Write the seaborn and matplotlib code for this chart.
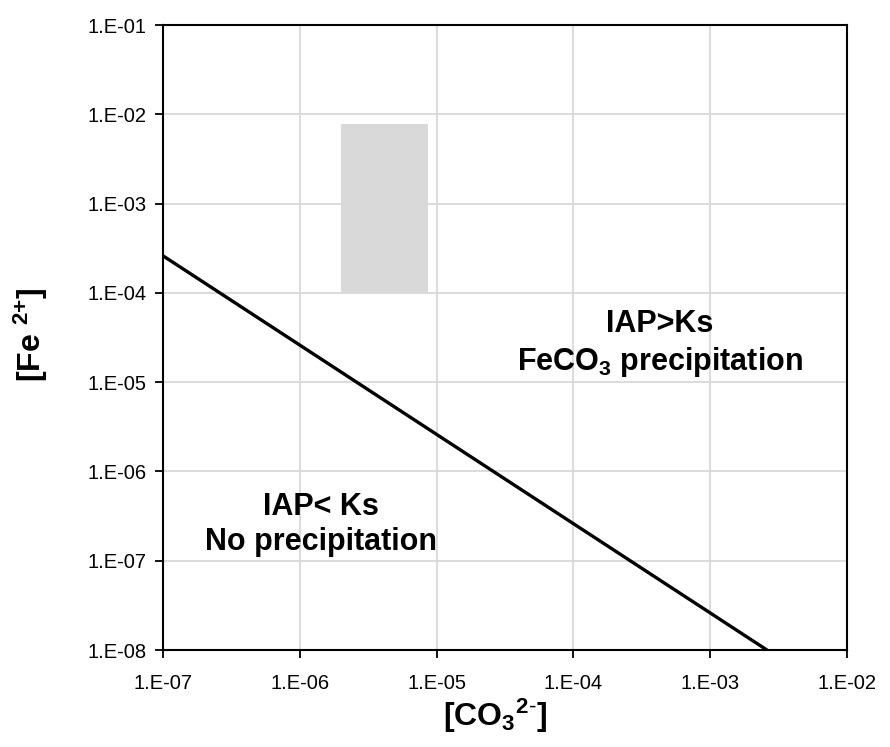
import math
import matplotlib
matplotlib.use("Agg")
import matplotlib.pyplot as plt
import seaborn as sns
import pandas as pd
from matplotlib.ticker import FuncFormatter, NullLocator

# Data
line_x = [1e-7, 2.6e-3]          # [CO3 2-]
line_y = [2.6e-4, 1e-8]          # [Fe 2+] on the solubility line
rect_x = [2.0e-6, 8.6e-6]        # shaded region x range
rect_y = [1.0e-4, 7.8e-3]        # shaded region y range
x_ticks = [1e-7, 1e-6, 1e-5, 1e-4, 1e-3, 1e-2]
y_ticks = [1e-8, 1e-7, 1e-6, 1e-5, 1e-4, 1e-3, 1e-2, 1e-1]

sns.set_theme(style="white")
plt.rcParams['font.family'] = ['Liberation Sans', 'DejaVu Sans']
plt.rcParams['text.color'] = 'black'
plt.rcParams['axes.labelcolor'] = 'black'
plt.rcParams['mathtext.fontset'] = 'custom'
plt.rcParams['mathtext.rm'] = 'Liberation Sans'
plt.rcParams['mathtext.bf'] = 'Liberation Sans:bold'
plt.rcParams['mathtext.it'] = 'Liberation Sans:italic'

fig = plt.figure(figsize=(8.9, 7.47), dpi=100)
ax = fig.add_axes([163/890, 1-650/747, (847-163)/890, (650-25)/747])

ax.set_xscale('log')
ax.set_yscale('log')
ax.set_xlim(x_ticks[0], x_ticks[-1])
ax.set_ylim(y_ticks[0], y_ticks[-1])

ax.fill_between(rect_x, rect_y[0], rect_y[1], color='#d9d9d9', linewidth=0, zorder=1)

df = pd.DataFrame({'x': line_x, 'y': line_y})
sns.lineplot(data=df, x='x', y='y', ax=ax, color='black', linewidth=2.4, zorder=3)

ax.set_xticks(x_ticks)
ax.set_yticks(y_ticks)
ax.xaxis.set_minor_locator(NullLocator())
ax.yaxis.set_minor_locator(NullLocator())
fmt = FuncFormatter(lambda v, p: "1.E-%02d" % round(-math.log10(v)))
ax.xaxis.set_major_formatter(fmt)
ax.yaxis.set_major_formatter(fmt)

ax.grid(True, color='#d9d9d9', linewidth=1.3, zorder=2)
ax.set_axisbelow(False)
for s in ax.spines.values():
    s.set_color('black')
    s.set_linewidth(1.5)
    s.set_zorder(4)
ax.tick_params(axis='both', which='major', direction='out', length=6, width=1.3,
               color='black', labelsize=14.5, labelcolor='black',
               bottom=True, left=True)
ax.tick_params(axis='x', pad=11)
ax.tick_params(axis='y', pad=6)

ax.set_xlabel(r"[CO$\mathbf{_3}$$\mathbf{^{2\text{-}}}$]", fontsize=23, fontweight='bold')
ax.set_ylabel(r"[Fe $\mathbf{^{2{+}}}$]", fontsize=23, fontweight='bold')
ax.xaxis.set_label_coords(0.486, -0.074)
ax.yaxis.set_label_coords(-0.165, 0.505)

ax.text(4.3e-4, 2.65e-5, "IAP>Ks\nFeCO$\\mathbf{_3}$ precipitation", ha='center', va='center',
        fontsize=22, fontweight='bold', linespacing=1.25)
ax.text(1.43e-6, 2.55e-7, "IAP< Ks\nNo precipitation", ha='center', va='center',
        fontsize=22, fontweight='bold', linespacing=1.25)

fig.savefig("out.png", dpi=100)
